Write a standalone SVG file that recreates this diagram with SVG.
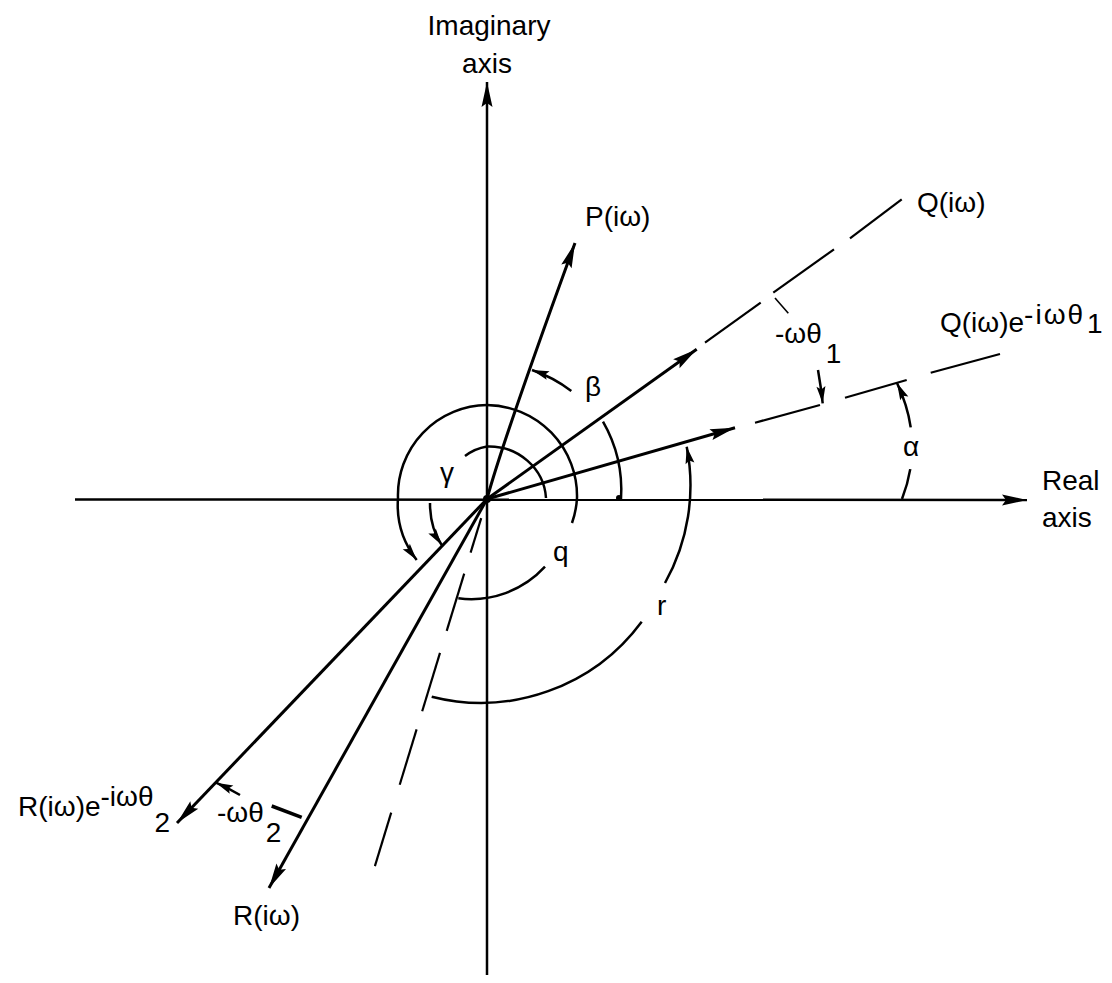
<svg xmlns="http://www.w3.org/2000/svg" width="1112" height="983" viewBox="0 0 1112 983">
<defs>
<style>
.ln{stroke:#000;fill:none;stroke-width:2.5}
.vec{stroke:#000;fill:none;stroke-width:3}
.ds{stroke:#000;fill:none;stroke-width:2.2}
.th{stroke:#000;fill:none;stroke-width:1.6}
text{font-family:"Liberation Sans",Arial,sans-serif;font-size:28px;fill:#000}
</style>
<marker id="ah" markerUnits="userSpaceOnUse" markerWidth="30" markerHeight="16" viewBox="-27 -8 30 16" refX="0" refY="0" orient="auto"><path d="M0,0 L-25,-5.5 L-21,0 L-25,5.5 Z" fill="#000"/></marker>
<marker id="as" markerUnits="userSpaceOnUse" markerWidth="22" markerHeight="12" viewBox="-19 -6 22 12" refX="0" refY="0" orient="auto"><path d="M0,0 L-17,-4.5 L-14,0 L-17,4.5 Z" fill="#000"/></marker>
</defs>
<rect width="1112" height="983" fill="#fff"/>
<g id="connectors">
<g id="axes">
<line class="ln" x1="75" y1="499.5" x2="1027" y2="500" marker-end="url(#ah)"/>
<line class="ln" x1="487" y1="975" x2="487" y2="82" marker-end="url(#ah)"/>
</g>
<g id="vectors">
<path class="vec" d="M487,499 Q503,440 575,243" marker-end="url(#ah)"/>
<line class="vec" x1="487" y1="499" x2="696.7" y2="349.3" marker-end="url(#ah)"/>
<line class="vec" x1="487" y1="499" x2="735" y2="427.7" marker-end="url(#ah)"/>
<line class="vec" x1="487" y1="499" x2="177" y2="823" marker-end="url(#ah)"/>
<line class="vec" x1="487" y1="499" x2="269" y2="888" marker-end="url(#ah)"/>
<circle cx="487" cy="499" r="4" fill="#000"/>
</g>
<g id="dashed">
<line class="ds" x1="705" y1="342.7" x2="760.7" y2="302.7"/>
<line class="ds" x1="773.3" y1="292.7" x2="834" y2="249.3"/>
<line class="ds" x1="850" y1="238.3" x2="901.7" y2="199.3"/>
<line class="ds" x1="755" y1="422.7" x2="820" y2="405"/>
<line class="ds" x1="845" y1="397.7" x2="906.7" y2="380"/>
<line class="ds" x1="930.7" y1="372.7" x2="1000" y2="354"/>
<line class="ds" x1="481.2" y1="518.1" x2="470.6" y2="552.6"/>
<line class="ds" x1="464.2" y1="573.6" x2="446.7" y2="630.9"/>
<line class="ds" x1="440" y1="652.9" x2="422.2" y2="711.2"/>
<line class="ds" x1="416.6" y1="729.4" x2="399.7" y2="784.8"/>
<line class="ds" x1="391.2" y1="812.6" x2="374.9" y2="866.1"/>
</g>
<g id="angle-arcs">
<path id="arc-gamma-a" class="ln" d="M546,498 A57,55 0 0 0 487,446.5 A50,50 0 0 0 465,456"/>
<path id="arc-gamma-b" class="ln" d="M430,503 Q430,528 441.7,545" marker-end="url(#as)"/>
<path id="arc-q-a" class="ln" d="M572,523 A90,90 0 0 0 577,498 A91,91 0 0 0 487,405 A90,90 0 0 0 398,498 A90,90 0 0 0 416.7,560" marker-end="url(#as)"/>
<path id="arc-q-b" class="ln" d="M458.3,598.3 A100,100 0 0 0 545,566.7"/>
<path id="arc-r-a" class="ln" d="M431.7,696.7 A200,200 0 0 0 641.7,621.7"/>
<path id="arc-r-b" class="ln" d="M665,583 A200,200 0 0 0 686.7,446.7" marker-end="url(#as)"/>
<path id="arc-beta-a" class="ln" d="M621,499 A134,136 0 0 0 603,421.7"/>
<circle cx="619" cy="498" r="3" fill="#000"/>
<path id="arc-beta-b" class="ln" d="M571.3,391 A137,137 0 0 0 532,370" marker-end="url(#as)"/>
<path id="arc-alpha" class="ln" d="M902,499 Q924.5,441 897,383" stroke-dasharray="31 42 60" marker-end="url(#as)"/>
<path id="arrow-wt1" class="ln" d="M818,370 Q821,387 822.7,403.3" marker-end="url(#as)"/>
<line id="leader-wt1" class="th" x1="775" y1="298" x2="788.3" y2="313.3"/>
<line id="arc-wt2-a" class="vec" x1="301.7" y1="817.3" x2="271.7" y2="806" style="stroke-width:3.5"/>
<path id="arc-wt2-b" class="ln" d="M240,795 Q228,788 216,782.7" marker-end="url(#as)"/>
</g>
</g>
<g id="labels">
<g id="lbl-imag"><text x="489" y="35" text-anchor="middle">Imaginary</text><text x="487" y="73" text-anchor="middle">axis</text></g>
<g id="lbl-real"><text x="1042" y="490">Real</text><text x="1042" y="527">axis</text></g>
<g id="lbl-P"><text x="585" y="226">P(iω)</text></g>
<g id="lbl-Q"><text x="917" y="212">Q(iω)</text></g>
<g id="lbl-Qe"><text x="940" y="332">Q(iω)e<tspan dy="-8" letter-spacing="2">-iωθ</tspan><tspan dx="2" dy="9">1</tspan></text></g>
<g id="lbl-wt1"><text x="775" y="343">-ωθ<tspan dx="4" dy="20">1</tspan></text></g>
<g id="lbl-alpha"><text x="903" y="456">α</text></g>
<g id="lbl-beta"><text x="585" y="396">β</text></g>
<g id="lbl-gamma"><text x="440" y="482">γ</text></g>
<g id="lbl-q"><text x="553" y="561">q</text></g>
<g id="lbl-r"><text x="657" y="615">r</text></g>
<g id="lbl-wt2"><text x="217" y="822">-ωθ<tspan dx="2" dy="20">2</tspan></text></g>
<g id="lbl-R"><text x="233" y="925">R(iω)</text></g>
<g id="lbl-Re"><text x="18" y="816">R(iω)e<tspan dy="-10">-iωθ</tspan><tspan dx="1" dy="26">2</tspan></text></g>
</g>
</svg>
